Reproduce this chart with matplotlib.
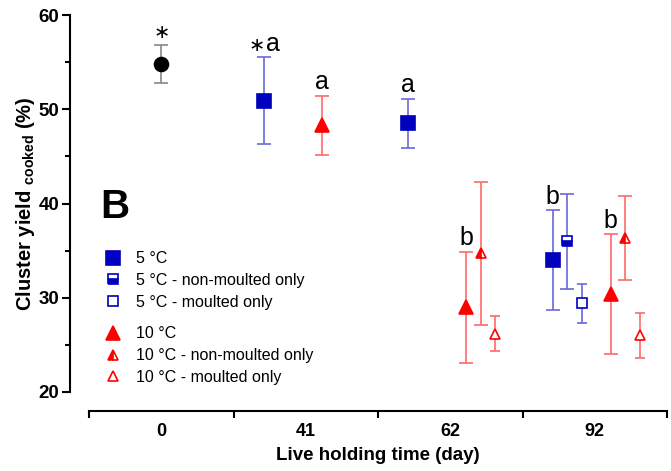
import numpy as np
import matplotlib
matplotlib.use("Agg")
import matplotlib.pyplot as plt
from matplotlib.lines import Line2D

plt.rcParams['font.family'] = ['Liberation Sans', 'DejaVu Sans']
plt.rcParams['mathtext.fontset'] = 'custom'
plt.rcParams['mathtext.rm'] = 'Liberation Sans'
plt.rcParams['mathtext.bf'] = 'Liberation Sans:bold'

# ---- data ----
days = ["0", "41", "62", "92"]
nan = np.nan
control_mean = [54.8, nan, nan, nan]
control_err = [2.0, nan, nan, nan]
c5_mean = [nan, 50.9, 48.5, 34.0]
c5_err = [nan, 4.6, 2.6, 5.3]
c5_nonmoult_mean = [nan, nan, nan, 36.0]
c5_nonmoult_err = [nan, nan, nan, 5.05]
c5_moult_mean = [nan, nan, nan, 29.4]
c5_moult_err = [nan, nan, nan, 2.1]
c10_mean = [nan, 48.3, 29.0, 30.4]
c10_err = [nan, 3.15, 5.9, 6.35]
c10_nonmoult_mean = [nan, nan, 34.7, 36.35]
c10_nonmoult_err = [nan, nan, 7.6, 4.45]
c10_moult_mean = [nan, nan, 26.2, 26.0]
c10_moult_err = [nan, nan, 1.9, 2.4]

# significance marks: (series, day index, star, letter)
letters = [("control", 0, True, ""), ("c5", 1, True, "a"), ("c10", 1, False, "a"),
           ("c5", 2, False, "a"), ("c10", 2, False, "b"), ("c5", 3, False, "b"),
           ("c10", 3, False, "b")]

blue = "#0000bf"
blue_err = "#6a6ad8"
red = "#ff0000"
red_err = "#ff6a6a"

fig = plt.figure(figsize=(6.71, 4.71), dpi=100)
ax = fig.add_axes([89/671, 1-392/471, 578/671, 377/471])

xg = np.arange(len(days))

series = {
    "control": dict(mean=control_mean, err=control_err, off=0.0, marker='o', ms=10,
                    color='black', ecolor='#888888', fill='full', cap=5),
    "c5": dict(mean=c5_mean, err=c5_err, off=-0.29, marker='s', ms=10,
               color=blue, ecolor=blue_err, fill='full', cap=5.3),
    "c5n": dict(mean=c5_nonmoult_mean, err=c5_nonmoult_err, off=-0.19, marker='s', ms=7,
                color=blue, ecolor=blue_err, fill='bottom', cap=5),
    "c5m": dict(mean=c5_moult_mean, err=c5_moult_err, off=-0.09, marker='s', ms=7,
                color=blue, ecolor=blue_err, fill='none', cap=3.6),
    "c10": dict(mean=c10_mean, err=c10_err, off=0.11, marker='^', ms=10,
                color=red, ecolor=red_err, fill='full', cap=5.3),
    "c10n": dict(mean=c10_nonmoult_mean, err=c10_nonmoult_err, off=0.21, marker='^', ms=7,
                 color=red, ecolor=red_err, fill='left', cap=5),
    "c10m": dict(mean=c10_moult_mean, err=c10_moult_err, off=0.31, marker='^', ms=7,
                 color=red, ecolor=red_err, fill='none', cap=3.6),
}

for key, s in series.items():
    m = np.array(s["mean"], dtype=float)
    e = np.array(s["err"], dtype=float)
    ok = ~np.isnan(m)
    x = xg[ok] + s["off"]
    ax.errorbar(x, m[ok], yerr=e[ok], fmt='none', ecolor=s["ecolor"], elinewidth=1.2,
                capsize=s["cap"], capthick=1.2, zorder=2)
    if s["fill"] == 'none':
        ax.plot(x, m[ok], linestyle='none', marker=s["marker"], ms=s["ms"],
                markerfacecolor='white', markeredgecolor=s["color"], markeredgewidth=1.2, zorder=3)
    else:
        ax.plot(x, m[ok], linestyle='none', marker=s["marker"], ms=s["ms"],
                fillstyle=s["fill"], markerfacecolor=s["color"], markerfacecoloralt='white',
                markeredgecolor=s["color"], markeredgewidth=1.2, zorder=3)

star_kw = dict(textcoords='offset points', va='bottom', fontsize=14, family=['DejaVu Sans'])
for key, i, star, txt in letters:
    s = series[key]
    top = s["mean"][i] + s["err"][i]
    xy = (xg[i] + s["off"], top)
    if star and txt:
        ax.annotate(txt, xy, xytext=(1.5, 1), textcoords='offset points',
                    ha='left', va='bottom', fontsize=18)
        ax.annotate("\u2217", xy, xytext=(1, 2), ha='right', **star_kw)
    elif star:
        ax.annotate("\u2217", xy, xytext=(0, 2.5), ha='center', **star_kw)
    else:
        ax.annotate(txt, xy, xytext=(0, 1), textcoords='offset points',
                    ha='center', va='bottom', fontsize=18)

ax.set_xlim(-0.5, 3.5)
ax.set_ylim(20, 60)
ax.spines['top'].set_visible(False)
ax.spines['right'].set_visible(False)
ax.spines['left'].set_position(('outward', 13.7))
ax.spines['bottom'].set_position(('outward', 13.5))
ax.spines['left'].set_linewidth(1.5)
ax.spines['bottom'].set_linewidth(1.5)

ax.set_yticks([20, 30, 40, 50, 60])
ax.set_yticks([25, 35, 45, 55], minor=True)
ax.tick_params(axis='y', which='major', length=5.5, width=1.5, labelsize=13.5, pad=2)
ax.tick_params(axis='y', which='minor', length=3.5, width=1.5)
for lab in ax.get_yticklabels():
    lab.set_fontweight('bold')

ax.set_xticks(xg)
ax.set_xticklabels(days, fontsize=13, fontweight='bold')
ax.set_xticks(np.arange(-0.5, 3.6, 1.0), minor=True)
ax.tick_params(axis='x', which='major', length=0, pad=9)
ax.tick_params(axis='x', which='minor', length=5, width=1.5)

ax.set_xlabel("Live holding time (day)", fontsize=13.5, fontweight='bold', labelpad=5)
ax.set_ylabel(r"Cluster yield $_{\mathbf{cooked}}$ (%)", fontsize=14.5, fontweight='bold', labelpad=1)

ax.text(0.019, 0.490, "B", transform=ax.transAxes, fontsize=29, fontweight='bold',
        ha='left', va='center')

def handle(s):
    if s["fill"] == 'none':
        return Line2D([], [], linestyle='none', marker=s["marker"], ms=s["ms"],
                      markerfacecolor='white', markeredgecolor=s["color"], markeredgewidth=1.2)
    return Line2D([], [], linestyle='none', marker=s["marker"], ms=s["ms"], fillstyle=s["fill"],
                  markerfacecolor=s["color"], markerfacecoloralt='white',
                  markeredgecolor=s["color"], markeredgewidth=1.2)

leg_kw = dict(frameon=False, loc='upper left', borderpad=0, borderaxespad=0, handlelength=0.9,
              handletextpad=0.95, labelspacing=0.42, fontsize=11.5, numpoints=1)
leg1 = ax.legend([handle(series[k]) for k in ("c5", "c5n", "c5m")],
                 ["5 °C", "5 °C - non-moulted only", "5 °C - moulted only"],
                 bbox_to_anchor=(0.0294, 0.373), **leg_kw)
ax.add_artist(leg1)
ax.legend([handle(series[k]) for k in ("c10", "c10n", "c10m")],
          ["10 °C", "10 °C - non-moulted only", "10 °C - moulted only"],
          bbox_to_anchor=(0.0294, 0.174), **leg_kw)

fig.savefig("out.png", dpi=100)
